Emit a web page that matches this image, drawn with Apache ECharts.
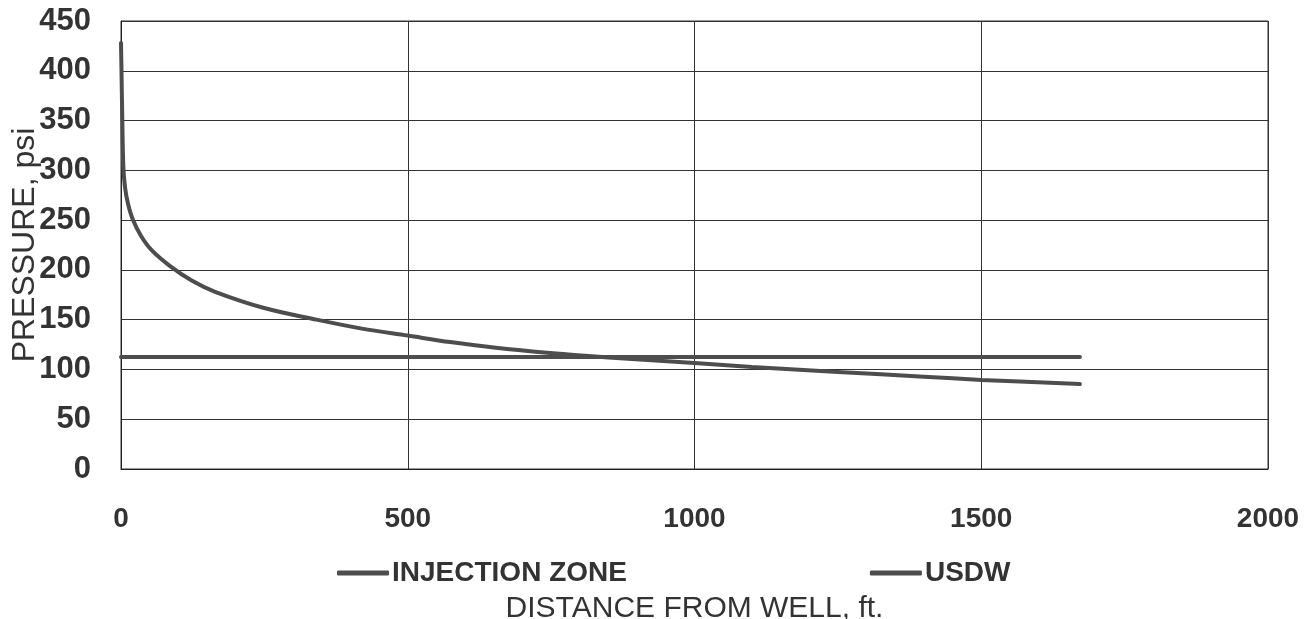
<!DOCTYPE html>
<html>
<head>
<meta charset="utf-8">
<script src="https://cdn.jsdelivr.net/npm/echarts@6/dist/echarts.min.js"></script>
<style>html,body{margin:0;padding:0;background:#fff;}#c{width:1306px;height:619px;}</style>
</head>
<body>
<div id="c"></div>
<script>
// Distance from well (ft) and pressure (psi)
const injectionDistance = [0, 1, 2, 4, 7, 12, 21, 35, 53, 85, 124, 164, 248, 341, 420, 500, 574, 650, 748, 850, 1000, 1100, 1250, 1400, 1500, 1672];
const injectionPressure = [428, 395, 360, 305, 283, 267, 250, 234, 220, 204, 189, 178, 162, 150, 141, 134, 127.5, 122, 116.5, 112, 106.5, 102.5, 97.5, 92.7, 89.5, 85.3];
const usdwDistance = [0, 1672];
const usdwPressure = [112.5, 112.5];
const seriesNames = ['INJECTION ZONE', 'USDW'];
const xTicks = [0, 500, 1000, 1500, 2000];
const yTicks = [0, 50, 100, 150, 200, 250, 300, 350, 400, 450];

const font = 'Liberation Sans, Arial, sans-serif';
const textColor = '#333';
const lineColor = '#4d4d4d';

const chart = echarts.init(document.getElementById('c'), null, {renderer: 'canvas'});
chart.setOption({
  animation: false,
  backgroundColor: '#fff',
  grid: {left: 121, right: 38, top: 21, bottom: 150, show: true, borderColor: '#333', borderWidth: 1, containLabel: false, outerBoundsMode: 'none'},
  legend: {
    left: 332, top: 554,
    icon: 'roundRect',
    itemWidth: 52, itemHeight: 5, itemGap: 243,
    data: seriesNames,
    itemStyle: {color: lineColor},
    textStyle: {fontFamily: font, fontSize: 28, fontWeight: 'bold', color: textColor, padding: [0,0,0,-2]}
  },
  xAxis: {
    type: 'value', min: xTicks[0], max: xTicks[xTicks.length-1], interval: 500,
    name: 'DISTANCE FROM WELL, ft.', nameLocation: 'middle', nameGap: 125, nameMoveOverlap: false,
    nameTextStyle: {fontFamily: font, fontSize: 30, color: textColor},
    axisLine: {show: true, lineStyle: {color: '#222', width: 1}},
    axisTick: {show: false},
    axisLabel: {fontFamily: font, fontSize: 28, fontWeight: 'bold', color: textColor, margin: 36, formatter: v => String(v)},
    splitLine: {show: true, lineStyle: {color: '#333', width: 1}}
  },
  yAxis: {
    type: 'value', min: yTicks[0], max: yTicks[yTicks.length-1], interval: 50,
    name: 'PRESSURE, psi', nameLocation: 'middle', nameGap: 80, nameRotate: 90, nameMoveOverlap: false,
    nameTextStyle: {fontFamily: font, fontSize: 32, color: textColor},
    axisLine: {show: true, lineStyle: {color: '#222', width: 1}},
    axisTick: {show: false},
    axisLabel: {fontFamily: font, fontSize: 31, fontWeight: 'bold', color: textColor, margin: 30, formatter: v => String(v)},
    splitLine: {show: true, lineStyle: {color: '#333', width: 1}}
  },
  series: [
    {
      name: seriesNames[0], type: 'line', smooth: 0.35, symbol: 'none',
      data: injectionDistance.map((d, i) => [d, injectionPressure[i]]),
      lineStyle: {color: lineColor, width: 4, cap: 'round'}, itemStyle: {color: lineColor}
    },
    {
      name: seriesNames[1], type: 'line', symbol: 'none',
      data: usdwDistance.map((d, i) => [d, usdwPressure[i]]),
      lineStyle: {color: lineColor, width: 4, cap: 'round'}, itemStyle: {color: lineColor}
    }
  ]
});
</script>
</body>
</html>
